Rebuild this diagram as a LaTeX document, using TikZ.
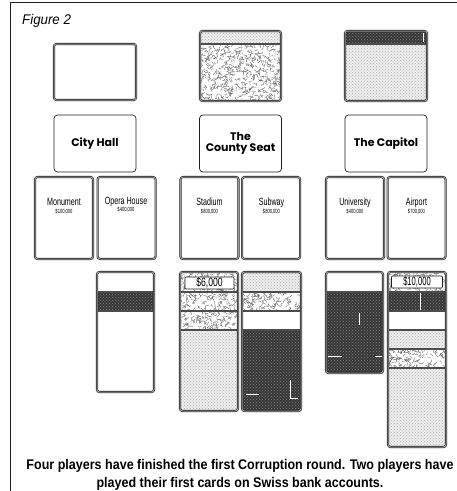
\documentclass[tikz,border=0pt]{standalone}
\usepackage{fontspec}
\usepackage{tikz}
\usetikzlibrary{patterns,positioning}
\setmainfont{Liberation Sans}
\newfontfamily\capfont[FakeStretch=0.895]{Liberation Sans}
\newfontfamily\figfont[FakeStretch=0.95]{Liberation Sans}
\newfontfamily\hallfont{Poppins}
\newfontfamily\propfont[FakeStretch=0.68]{Liberation Sans}
\newfontfamily\cashfont[FakeStretch=0.72]{Liberation Sans}
\definecolor{ink}{HTML}{1E1E1E}

% random short strokes filling a box
\newcommand\squig[4]{%
  \begin{scope}
    \clip (#1,#2) rectangle (#3,#4);
    \fill[white] (#1,#2) rectangle (#3,#4);
    \pgfmathtruncatemacro\nsq{abs((#3-#1)*(#4-#2))/8}
    \foreach \k in {1,...,\nsq}{
      \pgfmathsetmacro\sx{#1+rnd*(#3-#1)}
      \pgfmathsetmacro\sy{#2+rnd*(#4-#2)}
      \pgfmathsetmacro\sa{rnd*360}
      \pgfmathsetmacro\sb{\sa+rnd*140-70}
      \draw[squigline] (\sx,\sy) -- ++(\sa:2pt) -- ++(\sb:1.5pt);
    }
  \end{scope}}

\begin{document}
\begin{tikzpicture}[x=1pt,y=-1pt,
  frame/.style={draw=ink,line width=1pt},
  card/.style={draw=ink,double=black!40,double distance=1pt,line width=0.55pt,rounded corners=2.5pt},
  prop/.style={card,minimum width=58pt,minimum height=82pt},
  hall/.style={draw=ink,line width=0.7pt,rounded corners=3.5pt,minimum width=82pt,minimum height=57pt,
    align=center,font=\hallfont\bfseries\fontsize{11}{10.5}\selectfont},
  pname/.style={anchor=base,inner sep=0pt,font=\propfont\fontsize{10.5}{10.5}\selectfont},
  price/.style={anchor=base,inner sep=0pt,font=\propfont\fontsize{6}{6}\selectfont},
  cash/.style={draw=ink,fill=white,line width=0.6pt,rounded corners=1pt,inner sep=0pt,
    minimum height=12pt,font=\cashfont\fontsize{12}{12}\selectfont},
  sep/.style={draw=black!70,line width=1.4pt},
  lite/.style={fill=black!7,postaction={pattern=crosshatch dots,pattern color=black!30}},
  dark/.style={fill=black!78,postaction={pattern=crosshatch dots,pattern color=black!50}},
  whitemark/.style={draw=white,line width=0.9pt},
  squigline/.style={draw=black!60,line width=0.35pt}]
\pgfmathsetseed{11}
\useasboundingbox (0,0) rectangle (457,491);
\draw[frame] (10,491) -- (10,2.5) -- (457,2.5);
\node[anchor=base west,inner sep=0pt,font=\figfont\itshape\fontsize{14}{14}\selectfont] (figtitle) at (22,24) {Figure 2};

% top row: bank accounts
\node[card,minimum width=82pt,minimum height=56pt] (bankA) at (95,72) {};
\begin{scope}
  \clip[rounded corners=2.5pt] (200,31) rectangle (281,101);
  \path[lite] (200,31) rectangle (281,44);
  \squig{200}{44}{281}{101}
\end{scope}
\draw[sep] (200,44) -- (281,44);
\node[card,minimum width=81pt,minimum height=70pt] (bankB) at (240.5,66) {};
\begin{scope}
  \clip[rounded corners=2.5pt] (345,31) rectangle (427,101);
  \path[dark] (345,31) rectangle (427,44);
  \path[lite] (345,44) rectangle (427,101);
  \draw[whitemark] (423,33) -- (423,42);
\end{scope}
\draw[sep] (345,44) -- (427,44);
\node[card,minimum width=82pt,minimum height=70pt] (bankC) at (386,66) {};

% buildings
\node[hall] (cityhall) at (95,143.5) {City Hall};
\node[hall] (countyseat) at (240.5,143.5) {The\\County Seat};
\node[hall] (capitol) at (386,143.5) {The Capitol};

% properties
\node[prop] (monument) at (64,218) {};
\node[prop,right=4pt of monument] (opera) {};
\node[prop] (stadium) at (209.5,218) {};
\node[prop,right=3pt of stadium] (subway) {};
\node[prop] (university) at (355,218) {};
\node[prop,right=3pt of university] (airport) {};
\node[pname] (monumentname) at (64,205) {Monument};
\node[price] (monumentprice) at (64,213) {\$100,000};
\node[pname] (operaname) at (126,204) {Opera House};
\node[price] (operaprice) at (126,211) {\$400,000};
\node[pname] (stadiumname) at (209.5,205) {Stadium};
\node[price] (stadiumprice) at (209.5,213) {\$800,000};
\node[pname] (subwayname) at (271.5,205) {Subway};
\node[price] (subwayprice) at (271.5,213) {\$800,000};
\node[pname] (universityname) at (355,205) {University};
\node[price] (universityprice) at (355,213) {\$400,000};
\node[pname] (airportname) at (416.5,205) {Airport};
\node[price] (airportprice) at (416.5,213) {\$700,000};

% corruption stacks
\begin{scope}
  \clip[rounded corners=2.5pt] (97,272) rectangle (154,392);
  \path[dark] (97,292) rectangle (154,311);
\end{scope}
\draw[sep] (97,292) -- (154,292) (97,311) -- (154,311);
\draw[card] (97,272) rectangle (154,392);

\begin{scope}
  \clip[rounded corners=2.5pt] (180,272) rectangle (238,411);
  \squig{180}{272}{238}{292}
  \squig{180}{292}{238}{311}
  \squig{180}{311}{238}{330}
  \path[lite] (180,330) rectangle (238,411);
\end{scope}
\draw[sep] (180,292) -- (238,292) (180,311) -- (238,311) (180,330) -- (238,330);
\draw[card] (180,272) rectangle (238,411);
\node[cash,minimum width=49pt] (cashsix) at (209.5,283) {\$6,000};

\begin{scope}
  \clip[rounded corners=2.5pt] (242,272) rectangle (301,411);
  \path[lite] (242,272) rectangle (301,292);
  \squig{242}{292}{301}{311}
  \path[dark] (242,330) rectangle (301,411);
  \draw[whitemark] (246,394) -- (259,394);
  \draw[whitemark] (290,380) -- (290,398) -- (298,398);
\end{scope}
\draw[sep] (242,292) -- (301,292) (242,311) -- (301,311) (242,330) -- (301,330);
\draw[card] (242,272) rectangle (301,411);

\begin{scope}
  \clip[rounded corners=2.5pt] (326,272) rectangle (383,373);
  \path[dark] (326,292) rectangle (383,373);
  \draw[whitemark] (359,313) -- (359,325);
  \draw[whitemark] (328,356) -- (342,356) (375,356) -- (383,356);
\end{scope}
\draw[sep] (326,292) -- (383,292);
\draw[card] (326,272) rectangle (383,373);

\begin{scope}
  \clip[rounded corners=2.5pt] (388,272) rectangle (446,447);
  \squig{388}{272}{446}{292}
  \path[dark] (388,292) rectangle (446,311);
  \draw[whitemark] (420,293) -- (420,310);
  \path[lite] (388,330) rectangle (446,349);
  \squig{388}{349}{446}{368}
  \path[lite] (388,368) rectangle (446,447);
\end{scope}
\draw[sep] (388,292) -- (446,292) (388,311) -- (446,311) (388,330) -- (446,330)
  (388,349) -- (446,349) (388,368) -- (446,368);
\draw[card] (388,272) rectangle (446,447);
\node[cash,minimum width=51pt] (cashten) at (417,282) {\scalebox{0.88}[1]{\$10,000}};

% caption
\node[anchor=base,inner sep=0pt,font=\capfont\bfseries\fontsize{14}{14}\selectfont] (capone) at (240,469) {Four players have finished the first Corruption round. Two players have};
\node[anchor=base,inner sep=0pt,font=\capfont\bfseries\fontsize{14}{14}\selectfont] (captwo) at (240,487) {played their first cards on Swiss bank accounts.};
\end{tikzpicture}
\end{document}
